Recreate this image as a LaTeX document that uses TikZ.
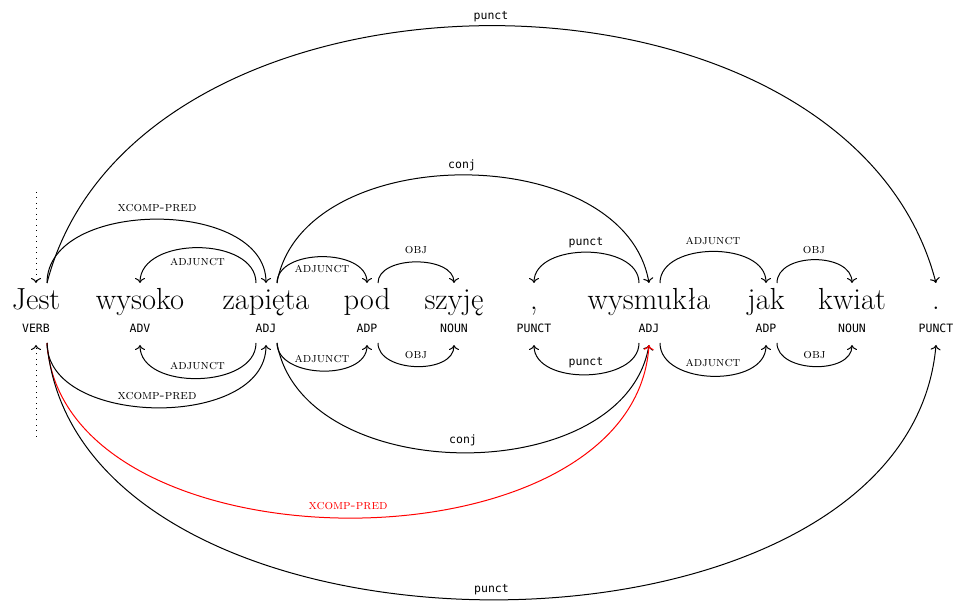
\documentclass[tikz,border=0pt]{standalone}
\usepackage{fontspec}
\newfontfamily\posfont{DejaVu Sans Mono}
\usetikzlibrary{arrows.meta}
\tikzset{
  word/.style={font=\fontsize{30.5}{32}\selectfont, anchor=base, inner sep=0pt},
  postag/.style={font=\posfont\fontsize{11.5}{13}\selectfont, anchor=base, inner sep=0pt},
  deplab/.style={font=\fontsize{13.5}{15}\selectfont\scshape, anchor=base, inner sep=0pt},
  udlab/.style={font=\posfont\fontsize{11.5}{13}\selectfont, anchor=base, inner sep=0pt},
  dep/.style={line width=1pt, -{To[length=5pt,width=10pt]}},
  rootarrow/.style={line width=1pt, dash pattern=on 1pt off 4.5pt, -{To[length=5pt,width=10pt]}},
}
\newcommand\DepWord[4]{%
  \node[word] (#1) at (#2,310) {#3};
  \node[postag] (#1-pos) at (#2,333) {#4};
  \coordinate (#1-t) at (#2,283);
  \coordinate (#1-tl) at (#2-10,283);
  \coordinate (#1-tr) at (#2+11,283);
  \coordinate (#1-b) at (#2,345);
  \coordinate (#1-bl) at (#2-10,343);
  \coordinate (#1-br) at (#2+11,343);
}
\begin{document}
\begin{tikzpicture}[x=1pt,y=-1pt]
\useasboundingbox (0,0) rectangle (956,601);
\DepWord{jest}{36}{Jest}{VERB}
\DepWord{wys}{140}{wysoko}{ADV}
\DepWord{zap}{266}{zapięta}{ADJ}
\DepWord{pod}{367}{pod}{ADP}
\DepWord{szy}{454}{szyję}{NOUN}
\DepWord{comma}{534}{,}{PUNCT}
\DepWord{wysm}{649}{wysmukła}{ADJ}
\DepWord{jak}{766}{jak}{ADP}
\DepWord{kwiat}{852}{kwiat}{NOUN}
\DepWord{dot}{936}{.}{PUNCT}

% root
\coordinate (roottop) at (36,192);
\coordinate (rootbot) at (36,437);
\draw[rootarrow] (roottop) -- (jest-t);
\draw[rootarrow] (rootbot) -- (jest-b);

% top arcs
\draw[dep] (jest-tr) .. controls +(89,-343) and +(-89,-343) .. (dot-t);
\draw[dep] (jest-tr) .. controls +(0,-85) and +(0,-85) .. (zap-t);
\draw[dep] (zap-tl) .. controls +(0,-47) and +(0,-47) .. (wys-t);
\draw[dep] (zap-tr) .. controls +(0,-35) and +(0,-35) .. (pod-t);
\draw[dep] (pod-tr) .. controls +(0,-28) and +(0,-28) .. (szy-t);
\draw[dep] (zap-tr) .. controls +(25,-144) and +(-25,-144) .. (wysm-t);
\draw[dep] (wysm-tl) .. controls +(0,-41) and +(0,-41) .. (comma-t);
\draw[dep] (wysm-tr) .. controls +(0,-42) and +(0,-42) .. (jak-t);
\draw[dep] (jak-tr) .. controls +(0,-31) and +(0,-31) .. (kwiat-t);

% bottom arcs
\draw[dep] (zap-bl) .. controls +(0,46) and +(0,46) .. (wys-b);
\draw[dep] (jest-br) .. controls +(0,85) and +(0,85) .. (zap-b);
\draw[dep] (zap-br) .. controls +(0,36) and +(0,36) .. (pod-b);
\draw[dep] (pod-br) .. controls +(0,30) and +(0,30) .. (szy-b);
\draw[dep] (wysm-bl) .. controls +(0,41) and +(0,41) .. (comma-b);
\draw[dep] (zap-br) .. controls +(25,145) and +(-25,145) .. (wysm-b);
\draw[dep] (wysm-br) .. controls +(0,43) and +(0,43) .. (jak-b);
\draw[dep] (jak-br) .. controls +(0,30) and +(0,30) .. (kwiat-b);
\draw[dep,red] (jest-br) .. controls +(15,232) and +(-15,232) .. (wysm-b);
\draw[dep] (jest-br) .. controls +(30,341) and +(-30,341) .. (dot-b);

% top labels
\node[udlab] (lt1) at (491,19.5) {punct};
\node[deplab] (lt2) at (157,212) {xcomp-pred};
\node[deplab] (lt3) at (197.5,266) {adjunct};
\node[deplab] (lt4) at (322,272.7) {adjunct};
\node[deplab] (lt5) at (416,254) {obj};
\node[udlab] (lt6) at (462,168.3) {conj};
\node[udlab] (lt7) at (586,246) {punct};
\node[deplab] (lt8) at (713,245) {adjunct};
\node[deplab] (lt9) at (814,254) {obj};

% bottom labels
\node[deplab] (lb1) at (197.5,370) {adjunct};
\node[deplab] (lb2) at (157,400) {xcomp-pred};
\node[deplab] (lb3) at (322,362.7) {adjunct};
\node[deplab] (lb4) at (416,358.7) {obj};
\node[udlab] (lb5) at (586,365.7) {punct};
\node[udlab] (lb6) at (463,443) {conj};
\node[deplab] (lb7) at (713,366.7) {adjunct};
\node[deplab] (lb8) at (814.5,359) {obj};
\node[deplab,red] (lb9) at (348,509.3) {xcomp-pred};
\node[udlab] (lb10) at (491.5,592.7) {punct};
\end{tikzpicture}
\end{document}
